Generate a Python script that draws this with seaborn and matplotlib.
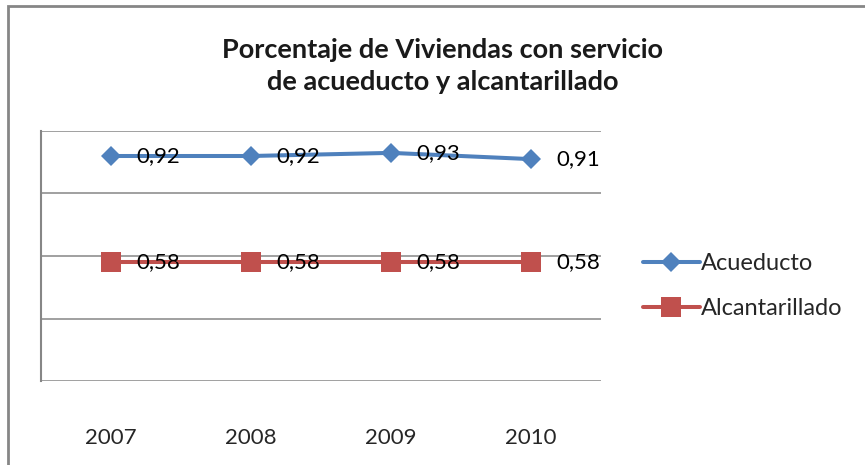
import numpy as np
import pandas as pd
import matplotlib
matplotlib.use("Agg")
import matplotlib.pyplot as plt
import seaborn as sns
from matplotlib.patches import Rectangle

years = ["2007", "2008", "2009", "2010"]
acueducto = [0.92, 0.92, 0.93, 0.91]
alcantarillado = [0.58, 0.58, 0.58, 0.58]
title = "Porcentaje de Viviendas con servicio\nde acueducto y alcantarillado"

sns.set_theme(style="white")
plt.rcParams["font.family"] = ["Lato", "DejaVu Sans"]

pos = np.arange(len(years))
df_acu = pd.DataFrame({"pos": pos, "valor": acueducto})
df_alc = pd.DataFrame({"pos": pos, "valor": alcantarillado})

fig = plt.figure(figsize=(8.65, 4.65), dpi=100)
ax = fig.add_axes([41 / 865, 84 / 465, 560 / 865, 250 / 465])

sns.lineplot(data=df_acu, x="pos", y="valor", ax=ax, color="#4F81BD",
             marker="D", markersize=10, markeredgewidth=0, linewidth=2.9,
             label="Acueducto")
sns.lineplot(data=df_alc, x="pos", y="valor", ax=ax, color="#C0504D",
             marker="s", markersize=14, markeredgewidth=0, linewidth=2.9,
             label="Alcantarillado")

for serie in (acueducto, alcantarillado):
    for i, v in enumerate(serie):
        ax.annotate(f"{v:.2f}".replace(".", ","), (i, v), xytext=(18, 0),
                    textcoords="offset points", va="center", ha="left",
                    fontsize=16, color="black")

ax.set_xlim(-0.5, len(years) - 0.5)
ax.set_ylim(0.2, 1.0)
ax.set_yticks([0.2, 0.4, 0.6, 0.8, 1.0])
ax.set_yticklabels([])
ax.set_xticks(pos)
ax.set_xticklabels(years, fontsize=16)
ax.tick_params(axis="x", length=0, pad=34)
ax.tick_params(axis="y", length=0)
ax.set_xlabel("")
ax.set_ylabel("")
ax.grid(axis="y", color="#868686", linewidth=1.1)
for s in ("top", "right", "bottom"):
    ax.spines[s].set_visible(False)
ax.spines["left"].set_color("#868686")
ax.spines["left"].set_linewidth(1.5)

handles, labels = ax.get_legend_handles_labels()
ax.get_legend().remove()
fig.legend(handles, labels, loc="center left", bbox_to_anchor=(643 / 865, 0.385),
           frameon=False, fontsize=17, handlelength=2.4, handletextpad=0.05,
           labelspacing=1.0, borderpad=0, borderaxespad=0)

fig.text(0.512, 1 - 66 / 465, title, ha="center", va="center", fontsize=19.5,
         fontweight="bold", linespacing=1.45, color="#1a1a1a")

fig.patches.append(Rectangle((8 / 865, -0.1), 1.2, 1 - 6 / 465 + 0.1,
                             transform=fig.transFigure, fill=False,
                             edgecolor="#868686", linewidth=2))

fig.savefig("out.png", dpi=100)
